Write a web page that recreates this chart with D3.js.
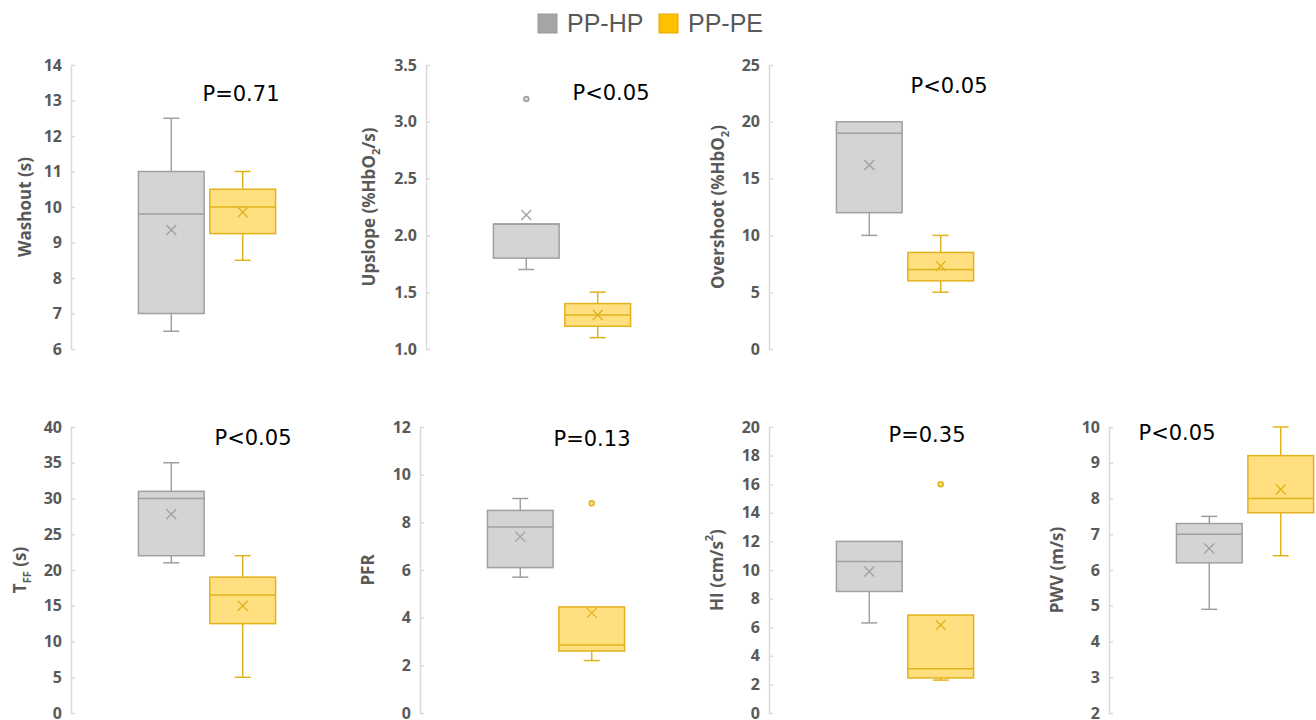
<!DOCTYPE html>
<html>
<head>
<meta charset="utf-8">
<script src="https://cdn.jsdelivr.net/npm/d3@7"></script>
<style>
  body { margin: 0; background: #fff; }
  svg { display: block; }
</style>
</head>
<body>
<svg id="chart" width="1316" height="720"></svg>
<script>
// groups and colours
const groups = ["PP-HP", "PP-PE"];
const legendFill = ["#a5a5a5", "#ffc000"];
const boxFill = ["#d4d4d4", "#ffdf80"];
const boxStroke = ["#a0a0a0", "#e2b21c"];

// box stats per group: [min, q1, median, q3, max, mean]
const washout   = [[6.5, 7.0, 9.8, 11.0, 12.5, 9.35], [8.5, 9.25, 10.0, 10.5, 11.0, 9.85]];
const upslope   = [[1.7, 1.8, 2.1, 2.1, 2.1, 2.18],   [1.1, 1.2, 1.3, 1.4, 1.5, 1.3]];
const overshoot = [[10, 12, 19, 20, 20, 16.2],        [5, 6, 7, 8.5, 10, 7.3]];
const tff       = [[21, 22, 30, 31, 35, 27.8],        [5, 12.5, 16.5, 19, 22, 15.0]];
const pfr       = [[5.7, 6.1, 7.8, 8.5, 9.0, 7.4],    [2.2, 2.6, 2.85, 4.45, 4.45, 4.2]];
const hi        = [[6.3, 8.5, 10.6, 12.0, 12.0, 9.9], [2.3, 2.45, 3.1, 6.85, 6.85, 6.15]];
const pwv       = [[4.9, 6.2, 7.0, 7.3, 7.5, 6.6],    [6.4, 7.6, 8.0, 9.2, 10.0, 8.25]];

// outliers per group
const upslopeOut = [[3.2], []];
const pfrOut = [[], [8.8]];
const hiOut = [[], [16]];
const noOut = [[], []];

const panelStats = [washout, upslope, overshoot, tff, pfr, hi, pwv];
const panelOutliers = [noOut, upslopeOut, noOut, noOut, pfrOut, hiOut, noOut];
const pLabels = ["P=0.71", "P<0.05", "P<0.05", "P<0.05", "P=0.13", "P=0.35", "P<0.05"];
const yDomains = [[6, 14], [1, 3.5], [0, 25], [0, 40], [0, 12], [0, 20], [2, 10]];
const tickSteps = [1, 0.5, 5, 5, 2, 2, 1];
const tickFormats = ["d", ".1f", "d", "d", "d", "d", "d"];
// axis titles as parts: [text, sub/super]
const yTitles = [
  [["Washout (s)", null]],
  [["Upslope (%HbO", null], ["2", "sub"], ["/s)", null]],
  [["Overshoot (%HbO", null], ["2", "sub"], [")", null]],
  [["T", null], ["FF", "sub"], [" (s)", null]],
  [["PFR", null]],
  [["HI (cm/s", null], ["2", "super"], [")", null]],
  [["PWV (m/s)", null]]
];

// layout: axis x, row, title x, p-label dx, p-label baseline
const layout = [
  {ax: 71,   row: 0, tx: 26,   pdx: 170, py: 101},
  {ax: 426,  row: 0, tx: 370,  pdx: 185, py: 100},
  {ax: 769,  row: 0, tx: 719,  pdx: 180, py: 93},
  {ax: 71,   row: 1, tx: 21,   pdx: 182, py: 445},
  {ax: 420,  row: 1, tx: 369,  pdx: 172, py: 446},
  {ax: 769,  row: 1, tx: 718,  pdx: 158, py: 442},
  {ax: 1109, row: 1, tx: 1058, pdx: 68,  py: 440}
];
const rows = [[349, 65], [713, 427]];

const svg = d3.select("#chart");

// legend
const legend = svg.append("g");
const legendX = [538, 659];
groups.forEach(function(g, i){
  legend.append("rect")
    .attr("x", legendX[i]).attr("y", 14)
    .attr("width", 19).attr("height", 19)
    .attr("fill", legendFill[i])
    .attr("stroke", i === 0 ? "#999" : "#e0a800")
    .attr("stroke-width", 1);
  legend.append("text")
    .attr("x", legendX[i] + 29).attr("y", 32)
    .attr("font-family", "Liberation Sans, Arial, sans-serif")
    .attr("font-size", 25)
    .attr("fill", "#595959")
    .text(g);
});

panelStats.forEach(function(stats, p){
  const L = layout[p];
  const g = svg.append("g");

  const y = d3.scaleLinear().domain(yDomains[p]).range(rows[L.row]);
  const ticks = d3.range(yDomains[p][0], yDomains[p][1] + tickSteps[p] / 2, tickSteps[p]);

  const x = d3.scaleBand()
    .domain(groups)
    .range([L.ax + 66, L.ax + 206])
    .paddingInner(0.08)
    .paddingOuter(0.02);

  const yAxis = d3.axisLeft(y)
    .tickValues(ticks)
    .tickFormat(d3.format(tickFormats[p]))
    .tickSize(-4)
    .tickSizeOuter(0)
    .tickPadding(9);

  const axG = g.append("g")
    .attr("transform", `translate(${L.ax},0)`)
    .call(yAxis);
  axG.select(".domain").attr("stroke", "#d9d9d9").attr("stroke-width", 1.5);
  axG.selectAll(".tick line").attr("stroke", "#d9d9d9").attr("stroke-width", 1.5);
  axG.selectAll(".tick text")
    .attr("font-family", "Open Sans, sans-serif")
    .attr("font-weight", "bold")
    .attr("font-size", 16)
    .attr("fill", "#595959");

  // axis title
  const midY = (rows[L.row][0] + rows[L.row][1]) / 2;
  const title = g.append("text")
    .attr("transform", `translate(${L.tx},${midY}) rotate(-90)`)
    .attr("text-anchor", "middle")
    .attr("dominant-baseline", "middle")
    .attr("font-family", "Open Sans, sans-serif")
    .attr("font-weight", "bold")
    .attr("font-size", 17)
    .attr("fill", "#595959");
  yTitles[p].forEach(function(part){
    const t = title.append("tspan").text(part[0]);
    if (part[1] === "sub") t.attr("font-size", 11).attr("baseline-shift", "sub");
    if (part[1] === "super") t.attr("font-size", 11).attr("baseline-shift", "super");
  });

  // p label
  g.append("text")
    .attr("x", L.ax + L.pdx).attr("y", L.py)
    .attr("text-anchor", "middle")
    .attr("font-family", "DejaVu Sans, sans-serif")
    .attr("font-size", 21)
    .attr("fill", "#000")
    .text(pLabels[p]);

  // boxes
  stats.forEach(function(s, i){
    const x0 = x(groups[i]), w = x.bandwidth(), cx = x0 + w / 2;
    const col = boxStroke[i];
    const bg = g.append("g")
      .attr("stroke", col)
      .attr("stroke-width", 1.5)
      .attr("fill", "none");

    // whiskers
    if (s[4] > s[3]) {
      bg.append("line").attr("x1", cx).attr("x2", cx).attr("y1", y(s[3])).attr("y2", y(s[4]));
      bg.append("line").attr("x1", cx - 8).attr("x2", cx + 8).attr("y1", y(s[4])).attr("y2", y(s[4]));
    }
    if (s[0] < s[1]) {
      bg.append("line").attr("x1", cx).attr("x2", cx).attr("y1", y(s[1])).attr("y2", y(s[0]));
      bg.append("line").attr("x1", cx - 8).attr("x2", cx + 8).attr("y1", y(s[0])).attr("y2", y(s[0]));
    }

    bg.append("rect")
      .attr("x", x0).attr("width", w)
      .attr("y", y(s[3])).attr("height", y(s[1]) - y(s[3]))
      .attr("fill", boxFill[i]);

    bg.append("line")
      .attr("x1", x0).attr("x2", x0 + w)
      .attr("y1", y(s[2])).attr("y2", y(s[2]));

    // mean marker
    const my = y(s[5]), m = 5;
    bg.append("path")
      .attr("stroke-width", 1.3)
      .attr("d", `M${cx - m},${my - m}L${cx + m},${my + m}M${cx - m},${my + m}L${cx + m},${my - m}`);

    // outliers
    bg.selectAll(".out")
      .data(panelOutliers[p][i])
      .enter()
      .append("circle")
      .attr("class", "out")
      .attr("cx", cx)
      .attr("cy", d => y(d))
      .attr("r", 2.5)
      .attr("fill", boxFill[i]);
  });
});
</script>
</body>
</html>
